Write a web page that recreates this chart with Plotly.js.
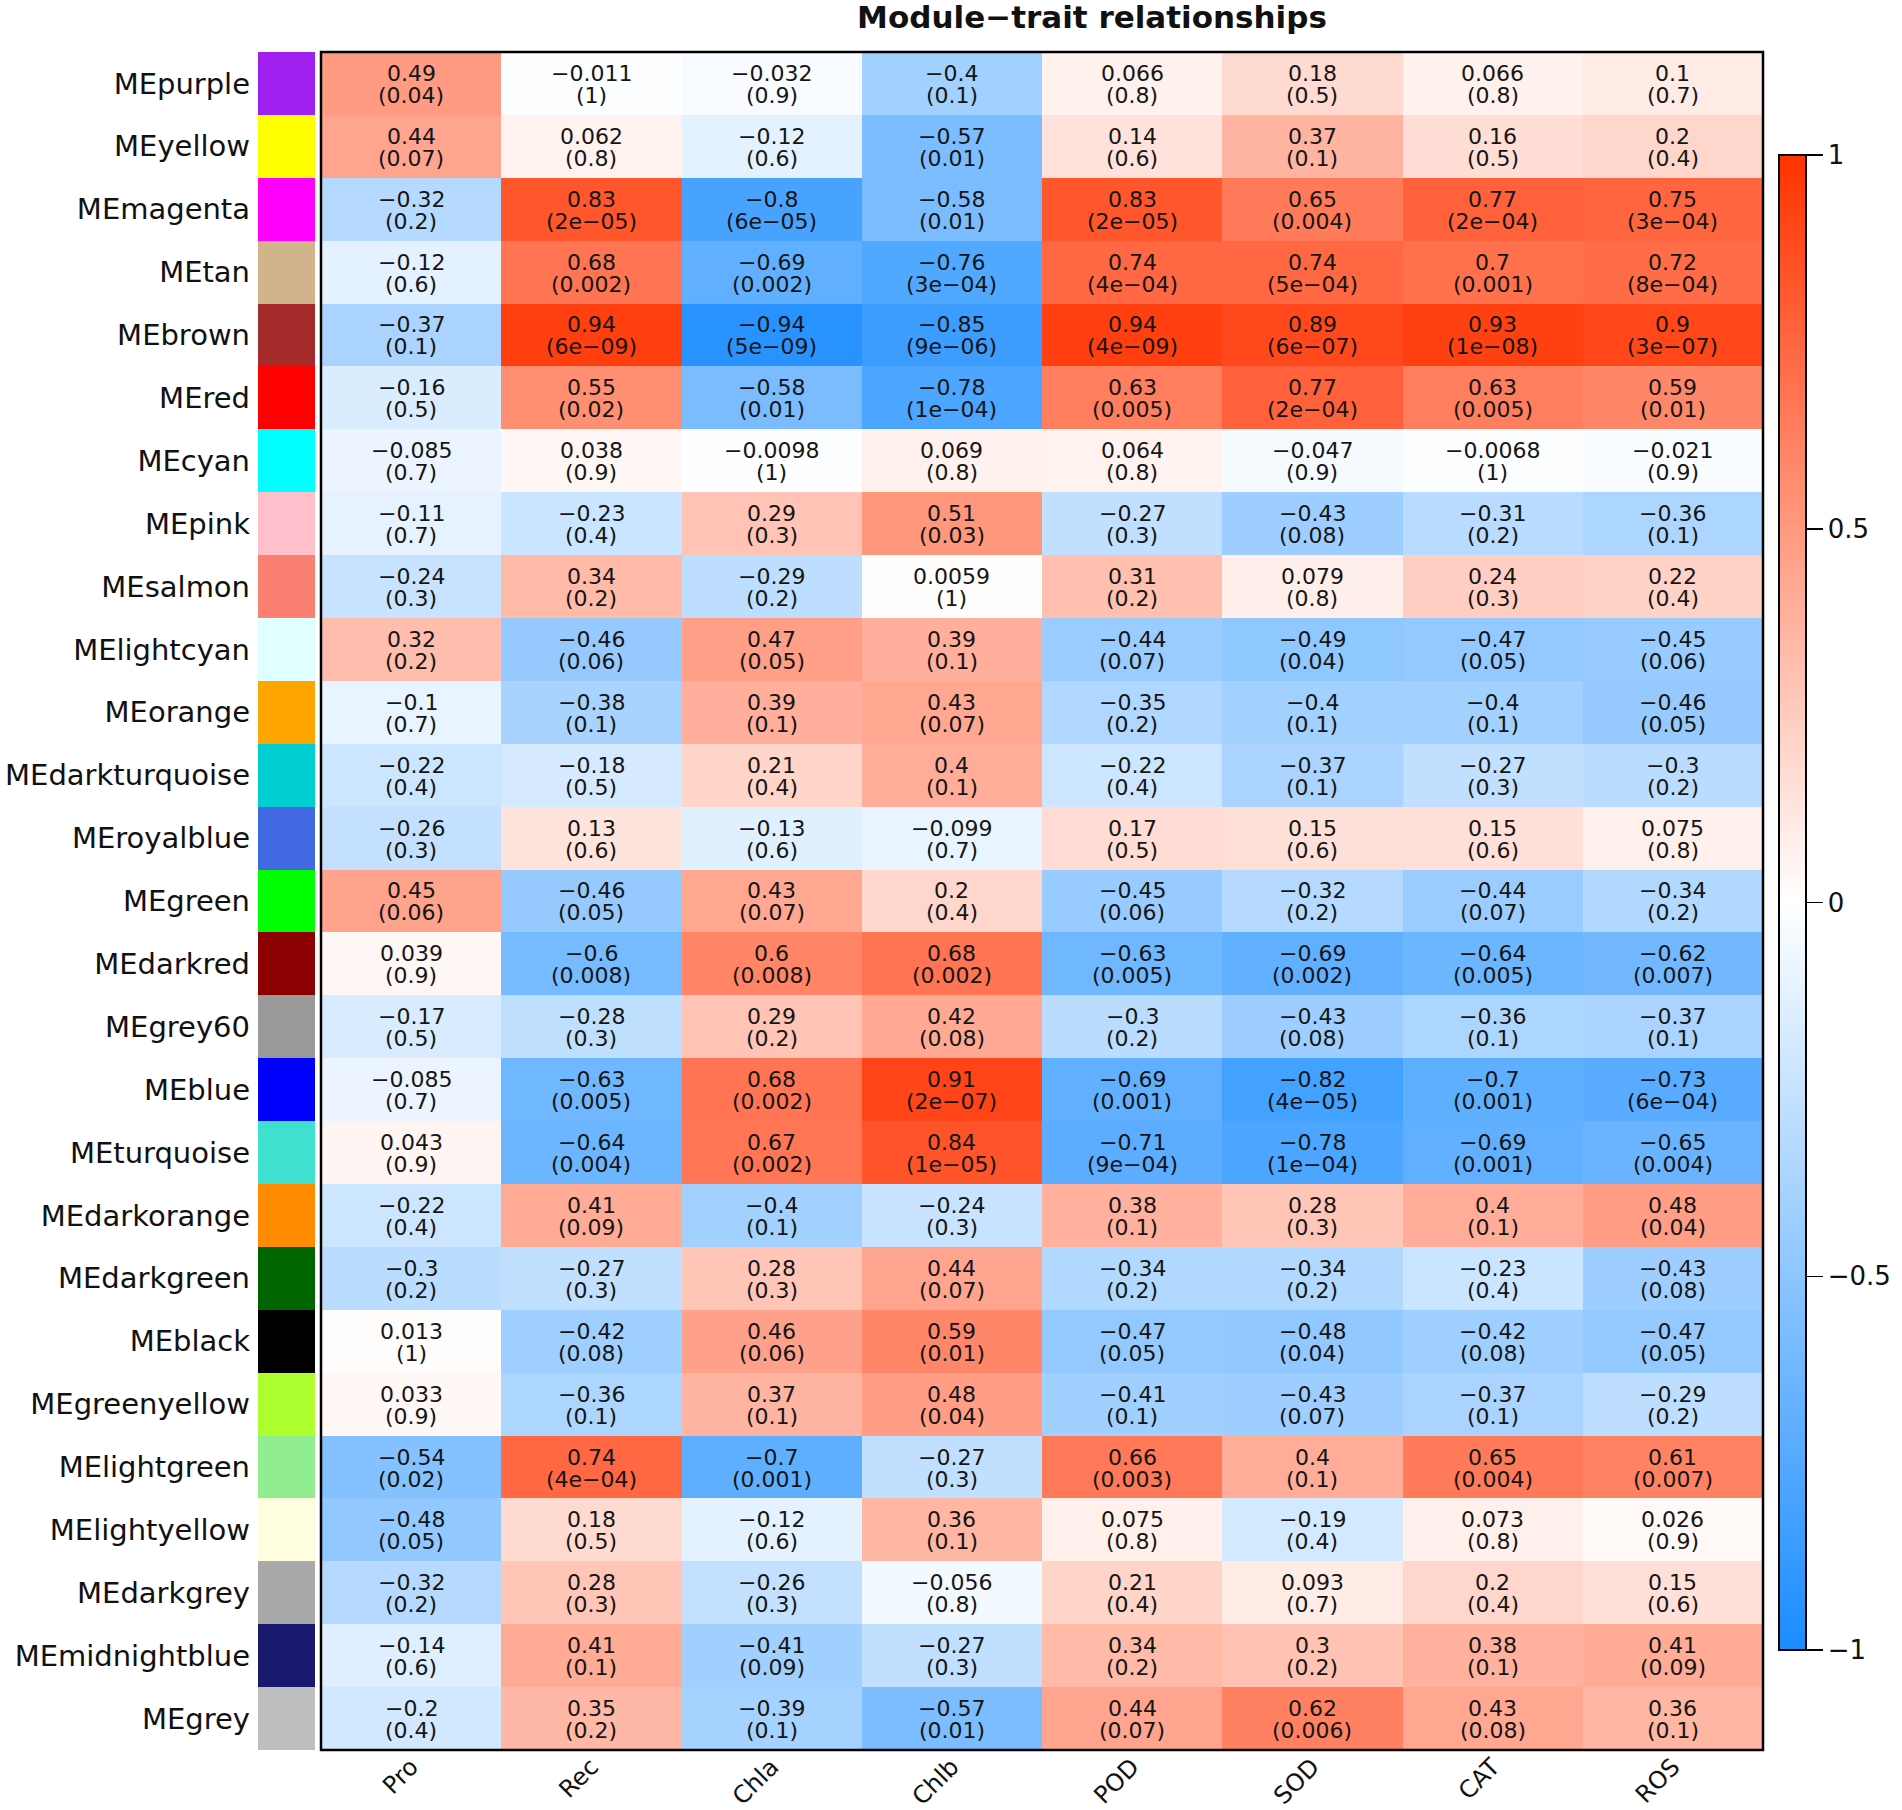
<!DOCTYPE html>
<html>
<head>
<meta charset="utf-8">
<script src="https://cdn.plot.ly/plotly-3.0.1.min.js"></script>
<style>html,body{margin:0;padding:0;background:#fff;}#chart{width:1902px;height:1810px;}</style>
</head>
<body>
<div id="chart"></div>
<script>
const traits = ["Pro", "Rec", "Chla", "Chlb", "POD", "SOD", "CAT", "ROS"];

const modules = ["MEpurple", "MEyellow", "MEmagenta", "MEtan", "MEbrown", "MEred", "MEcyan", "MEpink",
  "MEsalmon", "MElightcyan", "MEorange", "MEdarkturquoise", "MEroyalblue", "MEgreen", "MEdarkred",
  "MEgrey60", "MEblue", "MEturquoise", "MEdarkorange", "MEdarkgreen", "MEblack", "MEgreenyellow",
  "MElightgreen", "MElightyellow", "MEdarkgrey", "MEmidnightblue", "MEgrey"];

const moduleColors = ["#A020F0", "#FFFF00", "#FF00FF", "#D2B48C", "#A52A2A", "#FF0000", "#00FFFF", "#FFC0CB",
  "#FA8072", "#E0FFFF", "#FFA500", "#00CED1", "#4169E1", "#00FF00", "#8B0000",
  "#999999", "#0000FF", "#40E0D0", "#FF8C00", "#006400", "#000000", "#ADFF2F",
  "#90EE90", "#FFFFE0", "#A9A9A9", "#191970", "#BEBEBE"];

const correlations = [
  [0.49, -0.011, -0.032, -0.4, 0.066, 0.18, 0.066, 0.1],
  [0.44, 0.062, -0.12, -0.57, 0.14, 0.37, 0.16, 0.2],
  [-0.32, 0.83, -0.8, -0.58, 0.83, 0.65, 0.77, 0.75],
  [-0.12, 0.68, -0.69, -0.76, 0.74, 0.74, 0.7, 0.72],
  [-0.37, 0.94, -0.94, -0.85, 0.94, 0.89, 0.93, 0.9],
  [-0.16, 0.55, -0.58, -0.78, 0.63, 0.77, 0.63, 0.59],
  [-0.085, 0.038, -0.0098, 0.069, 0.064, -0.047, -0.0068, -0.021],
  [-0.11, -0.23, 0.29, 0.51, -0.27, -0.43, -0.31, -0.36],
  [-0.24, 0.34, -0.29, 0.0059, 0.31, 0.079, 0.24, 0.22],
  [0.32, -0.46, 0.47, 0.39, -0.44, -0.49, -0.47, -0.45],
  [-0.1, -0.38, 0.39, 0.43, -0.35, -0.4, -0.4, -0.46],
  [-0.22, -0.18, 0.21, 0.4, -0.22, -0.37, -0.27, -0.3],
  [-0.26, 0.13, -0.13, -0.099, 0.17, 0.15, 0.15, 0.075],
  [0.45, -0.46, 0.43, 0.2, -0.45, -0.32, -0.44, -0.34],
  [0.039, -0.6, 0.6, 0.68, -0.63, -0.69, -0.64, -0.62],
  [-0.17, -0.28, 0.29, 0.42, -0.3, -0.43, -0.36, -0.37],
  [-0.085, -0.63, 0.68, 0.91, -0.69, -0.82, -0.7, -0.73],
  [0.043, -0.64, 0.67, 0.84, -0.71, -0.78, -0.69, -0.65],
  [-0.22, 0.41, -0.4, -0.24, 0.38, 0.28, 0.4, 0.48],
  [-0.3, -0.27, 0.28, 0.44, -0.34, -0.34, -0.23, -0.43],
  [0.013, -0.42, 0.46, 0.59, -0.47, -0.48, -0.42, -0.47],
  [0.033, -0.36, 0.37, 0.48, -0.41, -0.43, -0.37, -0.29],
  [-0.54, 0.74, -0.7, -0.27, 0.66, 0.4, 0.65, 0.61],
  [-0.48, 0.18, -0.12, 0.36, 0.075, -0.19, 0.073, 0.026],
  [-0.32, 0.28, -0.26, -0.056, 0.21, 0.093, 0.2, 0.15],
  [-0.14, 0.41, -0.41, -0.27, 0.34, 0.3, 0.38, 0.41],
  [-0.2, 0.35, -0.39, -0.57, 0.44, 0.62, 0.43, 0.36]
];

const pValues = [
  ["0.04", "1", "0.9", "0.1", "0.8", "0.5", "0.8", "0.7"],
  ["0.07", "0.8", "0.6", "0.01", "0.6", "0.1", "0.5", "0.4"],
  ["0.2", "2e-05", "6e-05", "0.01", "2e-05", "0.004", "2e-04", "3e-04"],
  ["0.6", "0.002", "0.002", "3e-04", "4e-04", "5e-04", "0.001", "8e-04"],
  ["0.1", "6e-09", "5e-09", "9e-06", "4e-09", "6e-07", "1e-08", "3e-07"],
  ["0.5", "0.02", "0.01", "1e-04", "0.005", "2e-04", "0.005", "0.01"],
  ["0.7", "0.9", "1", "0.8", "0.8", "0.9", "1", "0.9"],
  ["0.7", "0.4", "0.3", "0.03", "0.3", "0.08", "0.2", "0.1"],
  ["0.3", "0.2", "0.2", "1", "0.2", "0.8", "0.3", "0.4"],
  ["0.2", "0.06", "0.05", "0.1", "0.07", "0.04", "0.05", "0.06"],
  ["0.7", "0.1", "0.1", "0.07", "0.2", "0.1", "0.1", "0.05"],
  ["0.4", "0.5", "0.4", "0.1", "0.4", "0.1", "0.3", "0.2"],
  ["0.3", "0.6", "0.6", "0.7", "0.5", "0.6", "0.6", "0.8"],
  ["0.06", "0.05", "0.07", "0.4", "0.06", "0.2", "0.07", "0.2"],
  ["0.9", "0.008", "0.008", "0.002", "0.005", "0.002", "0.005", "0.007"],
  ["0.5", "0.3", "0.2", "0.08", "0.2", "0.08", "0.1", "0.1"],
  ["0.7", "0.005", "0.002", "2e-07", "0.001", "4e-05", "0.001", "6e-04"],
  ["0.9", "0.004", "0.002", "1e-05", "9e-04", "1e-04", "0.001", "0.004"],
  ["0.4", "0.09", "0.1", "0.3", "0.1", "0.3", "0.1", "0.04"],
  ["0.2", "0.3", "0.3", "0.07", "0.2", "0.2", "0.4", "0.08"],
  ["1", "0.08", "0.06", "0.01", "0.05", "0.04", "0.08", "0.05"],
  ["0.9", "0.1", "0.1", "0.04", "0.1", "0.07", "0.1", "0.2"],
  ["0.02", "4e-04", "0.001", "0.3", "0.003", "0.1", "0.004", "0.007"],
  ["0.05", "0.5", "0.6", "0.1", "0.8", "0.4", "0.8", "0.9"],
  ["0.2", "0.3", "0.3", "0.8", "0.4", "0.7", "0.4", "0.6"],
  ["0.6", "0.1", "0.09", "0.3", "0.2", "0.2", "0.1", "0.09"],
  ["0.4", "0.2", "0.1", "0.01", "0.07", "0.006", "0.08", "0.1"]
];

const colorbarTicks = [-1, -0.5, 0, 0.5, 1];

const minus = s => String(s).replace(/-/g, "\u2212");

const FONT = "DejaVu Sans, Liberation Sans, Arial, sans-serif";
const W = 1902, H = 1810;

const heat = {
  type: "heatmap",
  x: traits,
  y: modules,
  z: correlations,
  zmin: -1, zmax: 1,
  colorscale: [[0, "#1a8cff"], [0.5, "#ffffff"], [1, "#ff3300"]],
  xgap: 0, ygap: 0,
  hoverinfo: "skip",
  colorbar: {
    x: 1779 / W, xanchor: "left",
    y: 1 - ((155 + 1650) / 2) / H, yanchor: "middle",
    len: 1495, lenmode: "pixels",
    thickness: 27, thicknessmode: "pixels",
    outlinecolor: "#000", outlinewidth: 2,
    tickvals: colorbarTicks,
    ticktext: colorbarTicks.map(v => minus(v)),
    ticks: "outside", ticklen: 16, tickwidth: 1.5, tickcolor: "#000",
    tickfont: {family: FONT, size: 26, color: "#111"},
    xpad: 0, ypad: 0
  }
};

const n = moduleColors.length;
const swatch = {
  type: "heatmap",
  x: ["swatch"],
  y: modules,
  z: modules.map((m, i) => [i]),
  colorscale: moduleColors.map((c, i) => [i / (n - 1), c]),
  zmin: 0, zmax: n - 1,
  showscale: false,
  xaxis: "x2", yaxis: "y",
  hoverinfo: "skip"
};

// cell labels: correlation (upper line) and p-value (lower line)
const CELL_FONT = {family: FONT, size: 22, color: "#151515"};
const annotations = [];
modules.forEach((m, i) => {
  traits.forEach((t, j) => {
    annotations.push({
      x: t, y: m, xref: "x", yref: "y", showarrow: false,
      text: minus(correlations[i][j]), yshift: 10,
      font: CELL_FONT
    });
    annotations.push({
      x: t, y: m, xref: "x", yref: "y", showarrow: false,
      text: "(" + minus(pValues[i][j]) + ")", yshift: -12,
      font: CELL_FONT
    });
  });
});

const layout = {
  width: W, height: H,
  margin: {l: 0, r: 0, t: 0, b: 0},
  paper_bgcolor: "#fff", plot_bgcolor: "#fff",
  font: {family: FONT, color: "#111"},
  title: {
    text: "<b>Module\u2212trait relationships</b>",
    x: 1092 / W, xanchor: "center", xref: "paper",
    y: 1 - 17 / H, yanchor: "middle", yref: "paper",
    font: {family: FONT, size: 31, color: "#111"}
  },
  xaxis: {
    domain: [321 / W, 1763 / W],
    anchor: "y",
    tickangle: -45,
    tickfont: {family: FONT, size: 24, color: "#111"},
    ticklabelstandoff: -3,
    ticks: "", showgrid: false, zeroline: false, showline: false,
    fixedrange: true
  },
  xaxis2: {
    domain: [258 / W, 315 / W],
    anchor: "y",
    showticklabels: false, ticks: "", showgrid: false, zeroline: false, showline: false,
    fixedrange: true
  },
  yaxis: {
    domain: [1 - 1750 / H, 1 - 52 / H],
    anchor: "x2",
    autorange: "reversed",
    tickfont: {family: FONT, size: 29, color: "#111"},
    ticklabelstandoff: 7,
    ticks: "", showgrid: false, zeroline: false, showline: false,
    fixedrange: true
  },
  annotations: annotations,
  shapes: [{
    type: "rect", xref: "x domain", yref: "y domain",
    x0: 0, x1: 1, y0: 0, y1: 1,
    line: {color: "#000", width: 2.5}, layer: "above"
  }]
};

Plotly.newPlot("chart", [heat, swatch], layout, {displayModeBar: false, staticPlot: true});
</script>
</body>
</html>
